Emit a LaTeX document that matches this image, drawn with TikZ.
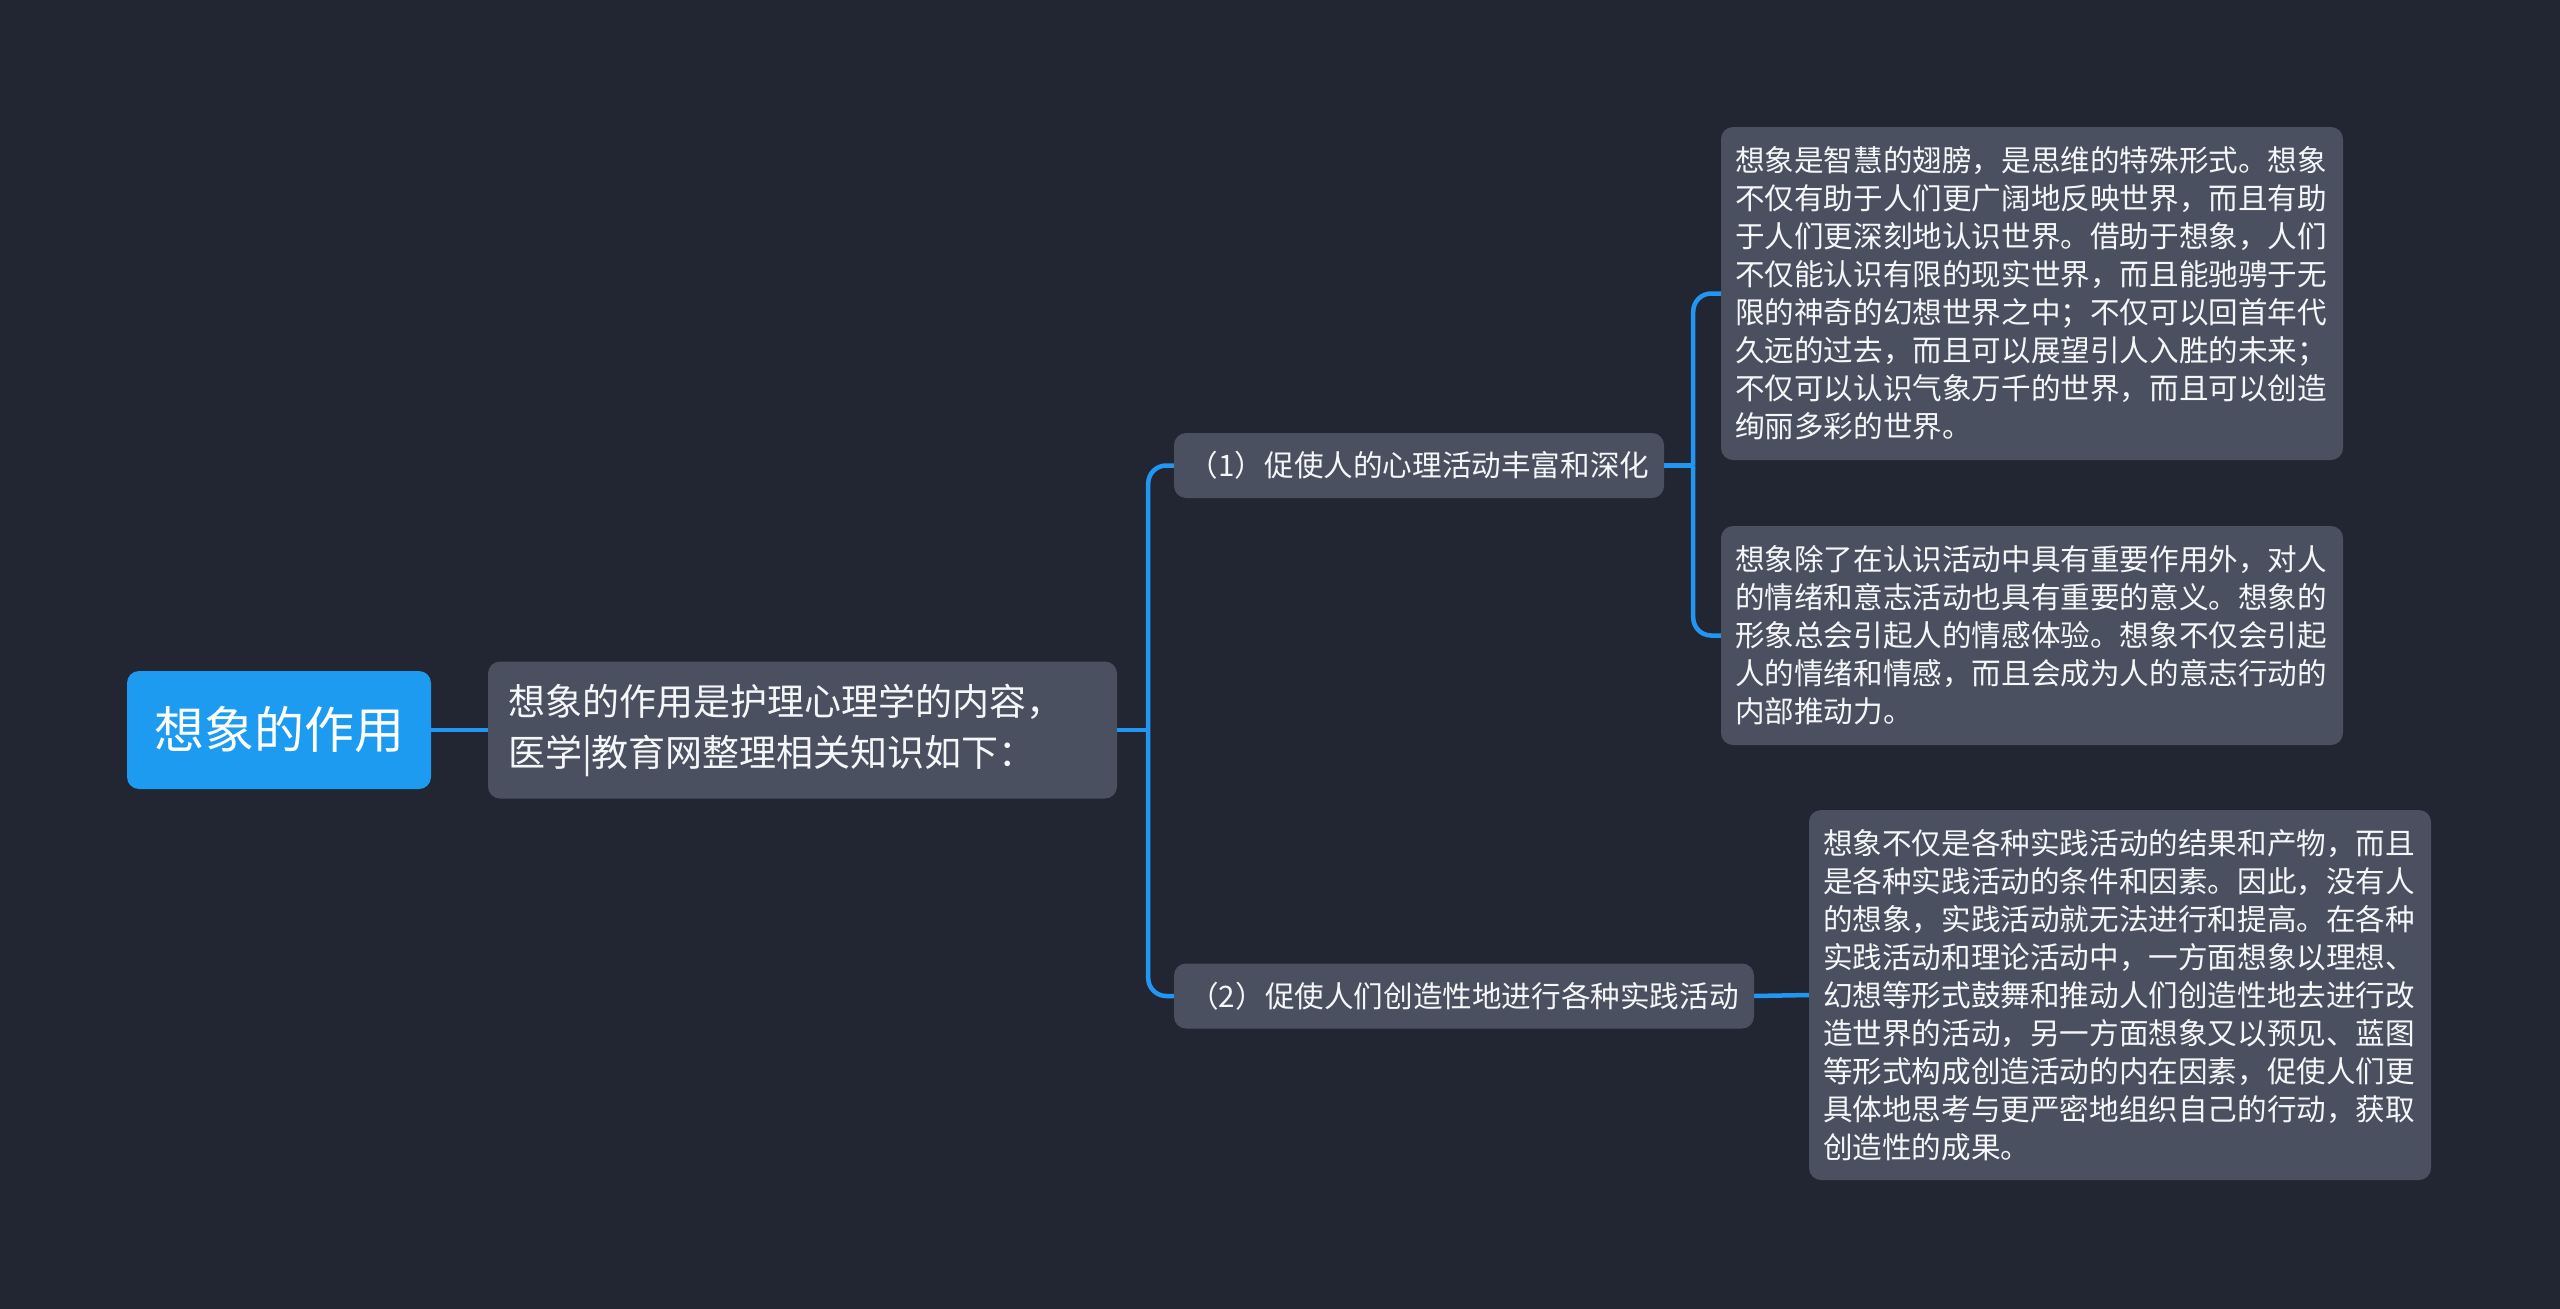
\documentclass[tikz,border=0pt]{standalone}
\usepackage{fontspec}
\newfontfamily\cjk{Noto Sans CJK SC}
\definecolor{bg}{RGB}{34,38,51}
\definecolor{boxgray}{RGB}{74,80,95}
\definecolor{rootblue}{RGB}{28,155,240}
\definecolor{linkblue}{RGB}{33,150,243}
\definecolor{txt}{RGB}{245,246,248}
\begin{document}
\begin{tikzpicture}[x=1pt,y=-1pt,
  box/.style={fill=boxgray, rounded corners=12pt, text=txt, inner sep=0pt},
  leaf/.style={box, align=left, text width=594pt, minimum width=622pt,
    font={\cjk\fontsize{29.6}{38}\selectfont}},
  sub/.style={box, align=center, minimum height=65pt,
    font={\cjk\fontsize{29.6}{38}\selectfont}},
  link/.style={draw=linkblue, line width=4.5pt}
]
\useasboundingbox (0,0) rectangle (2560,1309);
\fill[bg] (0,0) rectangle (2560,1309);

\node[fill=rootblue, rounded corners=12pt, text=white, inner sep=0pt,
  minimum width=304pt, minimum height=118pt,
  font={\cjk\fontsize{50}{60}\selectfont}] (root) at (279,730) {想象的作用};

\node[box, align=left, text width=589pt, minimum width=629pt, minimum height=137pt,
  font={\cjk\fontsize{37}{51}\selectfont}] (intro) at (802.5,730)
  {想象的作用是护理心理学的内容，\\医学|教育网整理相关知识如下：};

\node[sub, minimum width=490pt] (p1) at (1419,465.5) {（1）促使人的心理活动丰富和深化};
\node[sub, minimum width=580pt] (p2) at (1464,996) {（2）促使人们创造性地进行各种实践活动};

\node[leaf, minimum height=333pt] (la) at (2032,293.5)
  {想象是智慧的翅膀，是思维的特殊形式。想象\\
   不仅有助于人们更广阔地反映世界，而且有助\\
   于人们更深刻地认识世界。借助于想象，人们\\
   不仅能认识有限的现实世界，而且能驰骋于无\\
   限的神奇的幻想世界之中；不仅可以回首年代\\
   久远的过去，而且可以展望引人入胜的未来；\\
   不仅可以认识气象万千的世界，而且可以创造\\
   绚丽多彩的世界。};

\node[leaf, minimum height=219pt] (lb) at (2032,635.5)
  {想象除了在认识活动中具有重要作用外，对人\\
   的情绪和意志活动也具有重要的意义。想象的\\
   形象总会引起人的情感体验。想象不仅会引起\\
   人的情绪和情感，而且会成为人的意志行动的\\
   内部推动力。};

\node[leaf, minimum height=370pt] (lc) at (2120,995)
  {想象不仅是各种实践活动的结果和产物，而且\\
   是各种实践活动的条件和因素。因此，没有人\\
   的想象，实践活动就无法进行和提高。在各种\\
   实践活动和理论活动中，一方面想象以理想、\\
   幻想等形式鼓舞和推动人们创造性地去进行改\\
   造世界的活动，另一方面想象又以预见、蓝图\\
   等形式构成创造活动的内在因素，促使人们更\\
   具体地思考与更严密地组织自己的行动，获取\\
   创造性的成果。};

\path (intro.east) ++(31,0) coordinate (j1);
\path (p1.east) ++(29,0) coordinate (j2);

\draw[link] (root.east) -- (intro.west);
\draw[link] (intro.east) -- (j1);
\draw[link, rounded corners=18pt] (j1) |- (p1.west);
\draw[link, rounded corners=18pt] (j1) |- (p2.west);
\draw[link] (p1.east) -- (j2);
\draw[link, rounded corners=18pt] (j2) |- (la.west);
\draw[link, rounded corners=18pt] (j2) |- (lb.west);
\draw[link] (p2.east) -- (lc.west);
\end{tikzpicture}
\end{document}
